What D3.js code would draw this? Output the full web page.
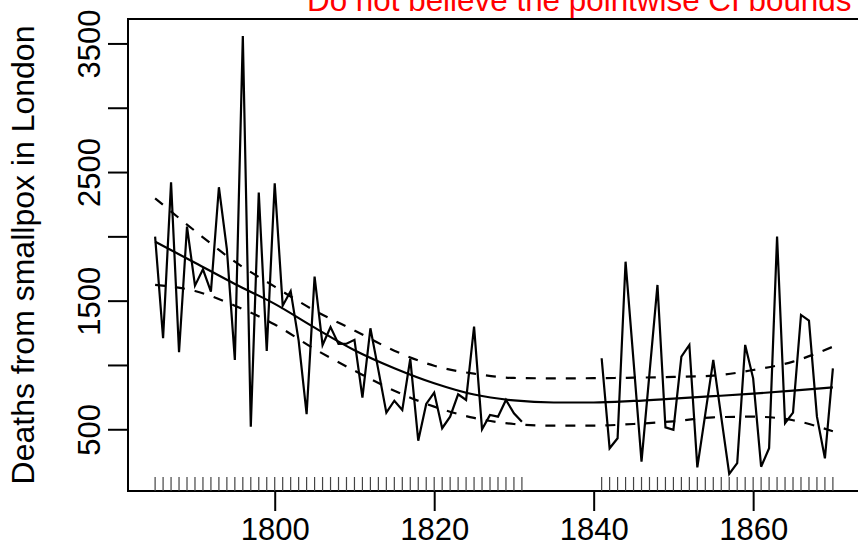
<!DOCTYPE html>
<html>
<head>
<meta charset="utf-8">
<script src="https://cdn.jsdelivr.net/npm/d3@7"></script>
<style>
  body { margin: 0; background: #fff; }
  text { font-family: "Liberation Sans", Arial, Helvetica, sans-serif; }
</style>
</head>
<body>
<script>
// observed deaths, two runs of years with a gap 1832-1840
var yearsA = [1785,1786,1787,1788,1789,1790,1791,1792,1793,1794,1795,1796,1797,1798,1799,
  1800,1801,1802,1803,1804,1805,1806,1807,1808,1809,1810,1811,1812,1813,1814,1815,1816,
  1817,1818,1819,1820,1821,1822,1823,1824,1825,1826,1827,1828,1829,1830,1831];
var deathsA = [1998,1208,2421,1099,2076,1617,1744,1570,2382,1900,1039,3558,520,2340,1109,
  2413,1461,1575,1190,618,1687,1155,1295,1164,1165,1195,746,1285,960,629,722,650,
  1048,411,697,785,508,598,772,728,1298,500,611,598,728,624,559];

var yearsB = [1841,1842,1843,1844,1845,1846,1847,1848,1849,1850,1851,1852,1853,1854,1855,
  1856,1857,1858,1859,1860,1861,1862,1863,1864,1865,1866,1867,1868,1869,1870];
var deathsB = [1052,352,430,1803,1030,248,935,1622,515,495,1065,1156,204,620,1039,
  595,152,236,1156,896,209,352,1998,547,629,1389,1345,598,274,974];

// smooth fit and pointwise bounds
var fitYears = [1785,1790,1795,1800,1805,1810,1815,1820,1825,1830,1835,1840,1845,1850,1855,1860,1865,1870];
var fit   = [1958,1795,1630,1475,1290,1115,975,858,770,724,708,708,720,738,757,777,800,825];
var upper = [2296,2042,1803,1609,1423,1268,1111,994,932,899,896,897,901,907,917,961,1026,1142];
var lower = [1622,1575,1461,1315,1124,956,800,676,588,541,528,528,541,562,593,598,570,484];

// axis ticks
var xTicks = [1800, 1820, 1840, 1860];
var yTicks = [500, 1000, 1500, 2000, 2500, 3000, 3500];
var yLabels = [500, 1500, 2500, 3500];

var W = 858, H = 546;
var box = {left: 128, right: 860, top: 19, bottom: 491};

var svg = d3.select("body").append("svg")
  .attr("width", W)
  .attr("height", H);

var x = d3.scaleLinear().domain([1781.6, 1873.4]).range([box.left, box.right]);
var y = d3.scaleLinear().domain([20, 3690]).range([box.bottom, box.top]);

// x axis
var gx = svg.append("g")
  .attr("transform", "translate(0," + box.bottom + ")")
  .call(d3.axisBottom(x).tickValues(xTicks).tickSize(20).tickFormat(d3.format("d")));
gx.select(".domain").remove();
gx.selectAll("line").attr("stroke", "#000").attr("stroke-width", 2);
gx.selectAll("text")
  .attr("y", 49).attr("dy", null)
  .attr("fill", "#000")
  .style("font-size", "31px");

// y axis, labels rotated like R
var gy = svg.append("g")
  .attr("transform", "translate(" + box.left + ",0)")
  .call(d3.axisLeft(y).tickValues(yTicks).tickSize(20)
    .tickFormat(d => yLabels.indexOf(d) >= 0 ? d : ""));
gy.select(".domain").remove();
gy.selectAll("line").attr("stroke", "#000").attr("stroke-width", 2);
gy.selectAll("text")
  .attr("x", null).attr("dy", null)
  .attr("transform", "translate(-28,0) rotate(-90)")
  .attr("text-anchor", "middle")
  .attr("fill", "#000")
  .style("font-size", "31px");

// frame
svg.append("rect")
  .attr("x", box.left).attr("y", box.top)
  .attr("width", box.right - box.left).attr("height", box.bottom - box.top)
  .attr("fill", "none").attr("stroke", "#000").attr("stroke-width", 2);

// y title
svg.append("text")
  .attr("transform", "translate(34," + ((box.top + box.bottom) / 2) + ") rotate(-90)")
  .attr("text-anchor", "middle")
  .style("font-size", "32px")
  .text("Deaths from smallpox in London");

// red title
svg.append("text")
  .attr("x", 307).attr("y", 11)
  .attr("fill", "#ff0000")
  .style("font-size", "31.4px")
  .text("Do not believe the pointwise CI bounds");

var plot = svg.append("g");

// rug of observed years
var allYears = yearsA.concat(yearsB);
plot.selectAll(".rug").data(allYears).enter().append("line")
  .attr("class", "rug")
  .attr("x1", d => x(d)).attr("x2", d => x(d))
  .attr("y1", box.bottom).attr("y2", box.bottom - 14)
  .attr("stroke", "#444").attr("stroke-width", 1.2);

// data lines
var line = d3.line().x(d => x(d[0])).y(d => y(d[1]));
[[yearsA, deathsA], [yearsB, deathsB]].forEach(function (s) {
  plot.append("path")
    .datum(d3.zip(s[0], s[1]))
    .attr("d", line)
    .attr("fill", "none").attr("stroke", "#000").attr("stroke-width", 2.2)
    .attr("stroke-linejoin", "miter");
});

// fit and bounds
var smooth = d3.line().x(d => x(d[0])).y(d => y(d[1])).curve(d3.curveMonotoneX);
plot.append("path")
  .datum(d3.zip(fitYears, fit))
  .attr("d", smooth)
  .attr("fill", "none").attr("stroke", "#000").attr("stroke-width", 2.2);
[upper, lower].forEach(function (b) {
  plot.append("path")
    .datum(d3.zip(fitYears, b))
    .attr("d", smooth)
    .attr("fill", "none").attr("stroke", "#000").attr("stroke-width", 2.2)
    .attr("stroke-dasharray", "10,10");
});
</script>
</body>
</html>
